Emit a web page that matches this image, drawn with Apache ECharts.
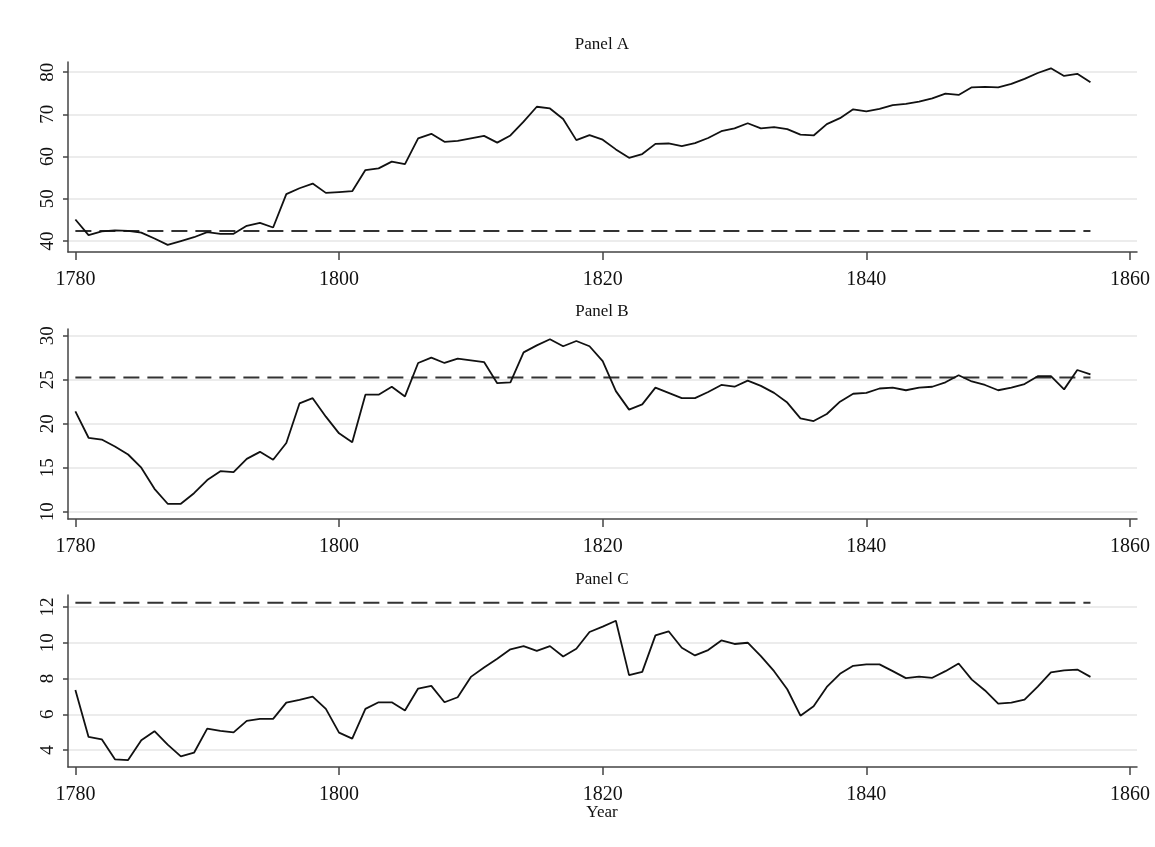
<!DOCTYPE html>
<html>
<head>
<meta charset="utf-8">
<script src="https://cdn.jsdelivr.net/npm/echarts@6/dist/echarts.min.js"></script>
<style>
  html, body { margin: 0; padding: 0; background: #fff; }
  #chart { width: 1155px; height: 847px; }
</style>
</head>
<body>
<div id="chart"></div>
<script>
// yearly observations 1780-1857
const firstYear = 1780;
const xTicks = [1780, 1800, 1820, 1840, 1860];

const panelA = [
  45.1, 41.4, 42.3, 42.5, 42.4, 42.0, 40.6, 39.1, 40.0, 40.9,
  42.1, 41.7, 41.7, 43.6, 44.3, 43.2, 51.1, 52.5, 53.6, 51.4,
  51.6, 51.8, 56.8, 57.2, 58.8, 58.2, 64.3, 65.4, 63.5, 63.7,
  64.3, 64.9, 63.3, 65.0, 68.3, 71.8, 71.4, 68.9, 63.9, 65.1,
  64.0, 61.7, 59.7, 60.6, 63.0, 63.1, 62.5, 63.2, 64.4, 66.0,
  66.7, 67.9, 66.7, 67.0, 66.5, 65.2, 65.0, 67.7, 69.1, 71.2,
  70.7, 71.3, 72.2, 72.5, 73.0, 73.8, 74.9, 74.6, 76.4, 76.5,
  76.4, 77.2, 78.4, 79.8, 80.9, 79.1, 79.6, 77.6
];
const panelB = [
  21.4, 18.4, 18.2, 17.4, 16.5, 15.0, 12.6, 10.9, 10.9, 12.1,
  13.6, 14.6, 14.5, 16.0, 16.8, 15.9, 17.8, 22.3, 22.9, 20.8,
  18.9, 17.9, 23.3, 23.3, 24.2, 23.1, 26.9, 27.5, 26.9, 27.4,
  27.2, 27.0, 24.6, 24.7, 28.1, 28.9, 29.6, 28.8, 29.4, 28.8,
  27.1, 23.7, 21.6, 22.2, 24.1, 23.5, 22.9, 22.9, 23.6, 24.4,
  24.2, 24.9, 24.3, 23.5, 22.4, 20.6, 20.3, 21.1, 22.5, 23.4,
  23.5, 24.0, 24.1, 23.8, 24.1, 24.2, 24.7, 25.5, 24.8, 24.4,
  23.8, 24.1, 24.5, 25.4, 25.4, 23.9, 26.1, 25.6
];
const panelC = [
  7.35, 4.73, 4.60, 3.48, 3.44, 4.54, 5.05, 4.30, 3.64, 3.85,
  5.20, 5.07, 4.99, 5.63, 5.74, 5.74, 6.65, 6.80, 6.99, 6.30,
  4.97, 4.64, 6.30, 6.67, 6.67, 6.21, 7.44, 7.59, 6.67, 6.95,
  8.09, 8.62, 9.10, 9.63, 9.81, 9.55, 9.81, 9.23, 9.66, 10.60,
  10.90, 11.23, 8.19, 8.37, 10.41, 10.64, 9.72, 9.29, 9.59, 10.13,
  9.93, 10.00, 9.25, 8.41, 7.40, 5.92, 6.45, 7.53, 8.26, 8.71,
  8.79, 8.79, 8.41, 8.02, 8.11, 8.04, 8.41, 8.84, 7.94, 7.33,
  6.60, 6.65, 6.82, 7.55, 8.34, 8.45, 8.50, 8.09
];

// dashed reference levels
const refA = 42.4;
const refB = 25.26;
const refC = 12.24;

const yTicksA = [40, 50, 60, 70, 80];
const yTicksB = [10, 15, 20, 25, 30];
const yTicksC = [4, 6, 8, 10, 12];

const years = panelA.map((_, i) => firstYear + i);
const lastYear = years[years.length - 1];

const chart = echarts.init(document.getElementById('chart'), null, { renderer: 'canvas' });

const serif = '"Liberation Serif", "DejaVu Serif", serif';
const textColor = '#111';
const axisColor = '#444';

const grids = [
  { left: 68, right: 18, top: 62, height: 190 },
  { left: 68, right: 18, top: 329, height: 190 },
  { left: 68, right: 18, top: 595, height: 172 }
];

function makeX(idx) {
  return {
    type: 'value',
    gridIndex: idx,
    min: 1779.44,
    max: 1860.53,
    axisLine: { show: true, onZero: false, lineStyle: { color: axisColor, width: 1.5 } },
    axisTick: { show: true, customValues: xTicks, length: 8, lineStyle: { color: axisColor, width: 1.5 } },
    axisLabel: {
      customValues: xTicks,
      formatter: v => String(v),
      color: textColor,
      fontFamily: serif,
      fontSize: 20,
      margin: 18
    },
    splitLine: { show: false }
  };
}

function makeY(idx, min, max, ticks) {
  return {
    type: 'value',
    gridIndex: idx,
    min: min,
    max: max,
    axisLine: { show: true, lineStyle: { color: axisColor, width: 1.5 } },
    axisTick: { show: true, customValues: ticks, length: 5, lineStyle: { color: axisColor, width: 1.5 } },
    axisLabel: { customValues: ticks, rotate: 90, color: textColor, fontFamily: serif, fontSize: 19, margin: 10 },
    splitLine: { show: true, lineStyle: { color: '#e6e6e6', width: 1.5 } }
  };
}

function lineSeries(idx, values) {
  return {
    type: 'line',
    xAxisIndex: idx,
    yAxisIndex: idx,
    data: years.map((y, i) => [y, values[i]]),
    symbol: 'none',
    lineStyle: { color: '#111', width: 1.8 },
    silent: true,
    z: 3
  };
}

function refSeries(idx, level) {
  return {
    type: 'line',
    xAxisIndex: idx,
    yAxisIndex: idx,
    data: [[firstYear, level], [lastYear, level]],
    symbol: 'none',
    lineStyle: { color: '#333', width: 2, type: [16, 8] },
    silent: true,
    z: 2
  };
}

function label(text, y) {
  return {
    type: 'text',
    x: 602,
    y: y,
    style: { text: text, textAlign: 'center', textVerticalAlign: 'top', fill: textColor, font: '17px ' + serif }
  };
}

const option = {
  backgroundColor: '#fff',
  animation: false,
  grid: grids,
  xAxis: [makeX(0), makeX(1), makeX(2)],
  yAxis: [
    makeY(0, 37.4, 82.4, yTicksA),
    makeY(1, 9.17, 30.76, yTicksB),
    makeY(2, 3.05, 12.67, yTicksC)
  ],
  series: [
    lineSeries(0, panelA), refSeries(0, refA),
    lineSeries(1, panelB), refSeries(1, refB),
    lineSeries(2, panelC), refSeries(2, refC)
  ],
  graphic: [
    label('Panel A', 36),
    label('Panel B', 303),
    label('Panel C', 571),
    label('Year', 804)
  ]
};

chart.setOption(option);
</script>
</body>
</html>
